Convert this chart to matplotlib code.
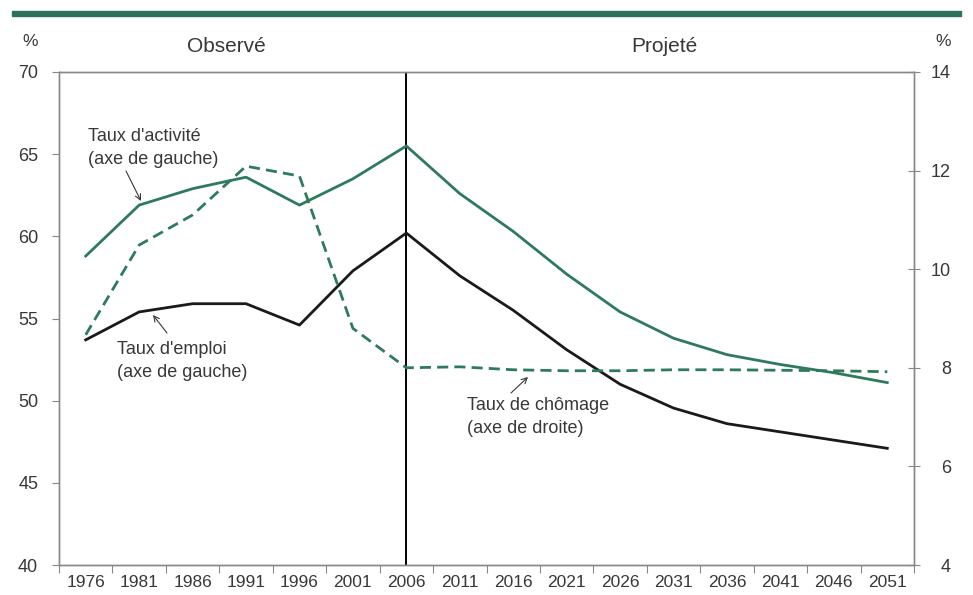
import numpy as np
import matplotlib.pyplot as plt
from matplotlib.patches import Rectangle

plt.rcParams['font.family'] = ['Liberation Sans', 'DejaVu Sans']

years = ["1976", "1981", "1986", "1991", "1996", "2001", "2006", "2011",
         "2016", "2021", "2026", "2031", "2036", "2041", "2046", "2051"]
activite = [58.8, 61.9, 62.9, 63.6, 61.9, 63.5, 65.5, 62.6,
            60.3, 57.7, 55.4, 53.8, 52.8, 52.2, 51.7, 51.1]
emploi = [53.7, 55.4, 55.9, 55.9, 54.6, 57.9, 60.2, 57.6,
          55.5, 53.1, 51.0, 49.55, 48.6, 48.1, 47.6, 47.1]
chomage = [8.67, 10.49, 11.1, 12.09, 11.89, 8.8, 8.0, 8.02,
           7.96, 7.94, 7.94, 7.96, 7.96, 7.95, 7.94, 7.92]
split_year = "2006"

green = "#2e7a5c"
grey = "#888888"
txt = "#383838"

W, H = 973, 595
fig = plt.figure(figsize=(W / 100, H / 100), dpi=100)
ax = fig.add_axes([59 / W, 1 - 565 / H, (914 - 59) / W, 493 / H])
ax2 = ax.twinx()

x = np.arange(len(years))
ax.plot(x, activite, color=green, lw=2.0, zorder=3)
ax.plot(x, emploi, color="#1a1a1a", lw=2.0, zorder=3)
ax2.plot(x, chomage, color=green, lw=2.0, ls=(0, (4, 2.2)), zorder=3)

ax.axvline(years.index(split_year), color="black", lw=1.4, zorder=2)

ax.set_xlim(-0.5, len(years) - 0.5)
ax.set_ylim(40, 70)
ax2.set_ylim(4, 14)
ax.set_yticks(np.arange(40, 71, 5))
ax2.set_yticks(np.arange(4, 15, 2))
ax.set_xticks(np.arange(-0.5, len(years), 1))
ax.set_xticklabels([])
ax.set_xticks(x, minor=True)
ax.set_xticklabels(years, minor=True)
ax.tick_params(axis="x", which="minor", length=0, pad=7)
ax.tick_params(axis="x", which="major", length=6, color=grey)

for a in (ax, ax2):
    for s in a.spines.values():
        s.set_color(grey)
        s.set_linewidth(1.0)
ax.tick_params(axis="y", length=5, color=grey, labelsize=13, labelcolor=txt, pad=10)
ax2.tick_params(axis="y", direction="inout", length=9, color=grey, labelsize=13,
                labelcolor=txt, pad=22)
for lab in ax2.get_yticklabels():
    lab.set_horizontalalignment("right")
ax.tick_params(axis="x", which="both", labelsize=12.5, labelcolor=txt)

fig.text(30 / W, 1 - 42 / H, "%", fontsize=12.5, color=txt, ha="center", va="center")
fig.text(943 / W, 1 - 42 / H, "%", fontsize=12.5, color=txt, ha="center", va="center")
fig.text(226 / W, 1 - 47 / H, "Observé", fontsize=15, color=txt, ha="center", va="center")
fig.text(664 / W, 1 - 47 / H, "Projeté", fontsize=15, color=txt, ha="center", va="center")

fig.patches.append(Rectangle((12 / W, 1 - 16 / H), 949 / W, 5 / H,
                             transform=fig.transFigure, color="#2d7258", zorder=0))

arrow = dict(arrowstyle="->", color=txt, lw=0.8, shrinkA=0, shrinkB=0)
labels = [
    ("Taux d'activité\n(axe de gauche)", (88, 128), (126, 171), (141, 201)),
    ("Taux d'emploi\n(axe de gauche)", (117, 341), (167, 333), (153, 315)),
    ("Taux de chômage\n(axe de droite)", (467, 397), (511, 393), (528, 377)),
]
for text, (tx, ty), (ax0, ay0), (ax1, ay1) in labels:
    fig.text(tx / W, 1 - ty / H, text, fontsize=13, color=txt, ha="left", va="top",
             linespacing=1.45)
    fig.add_artist(plt.Annotation("", xy=(ax1, H - ay1), xytext=(ax0, H - ay0),
                                  xycoords="figure pixels", textcoords="figure pixels",
                                  arrowprops=arrow))

fig.savefig("out.png", dpi=100)
